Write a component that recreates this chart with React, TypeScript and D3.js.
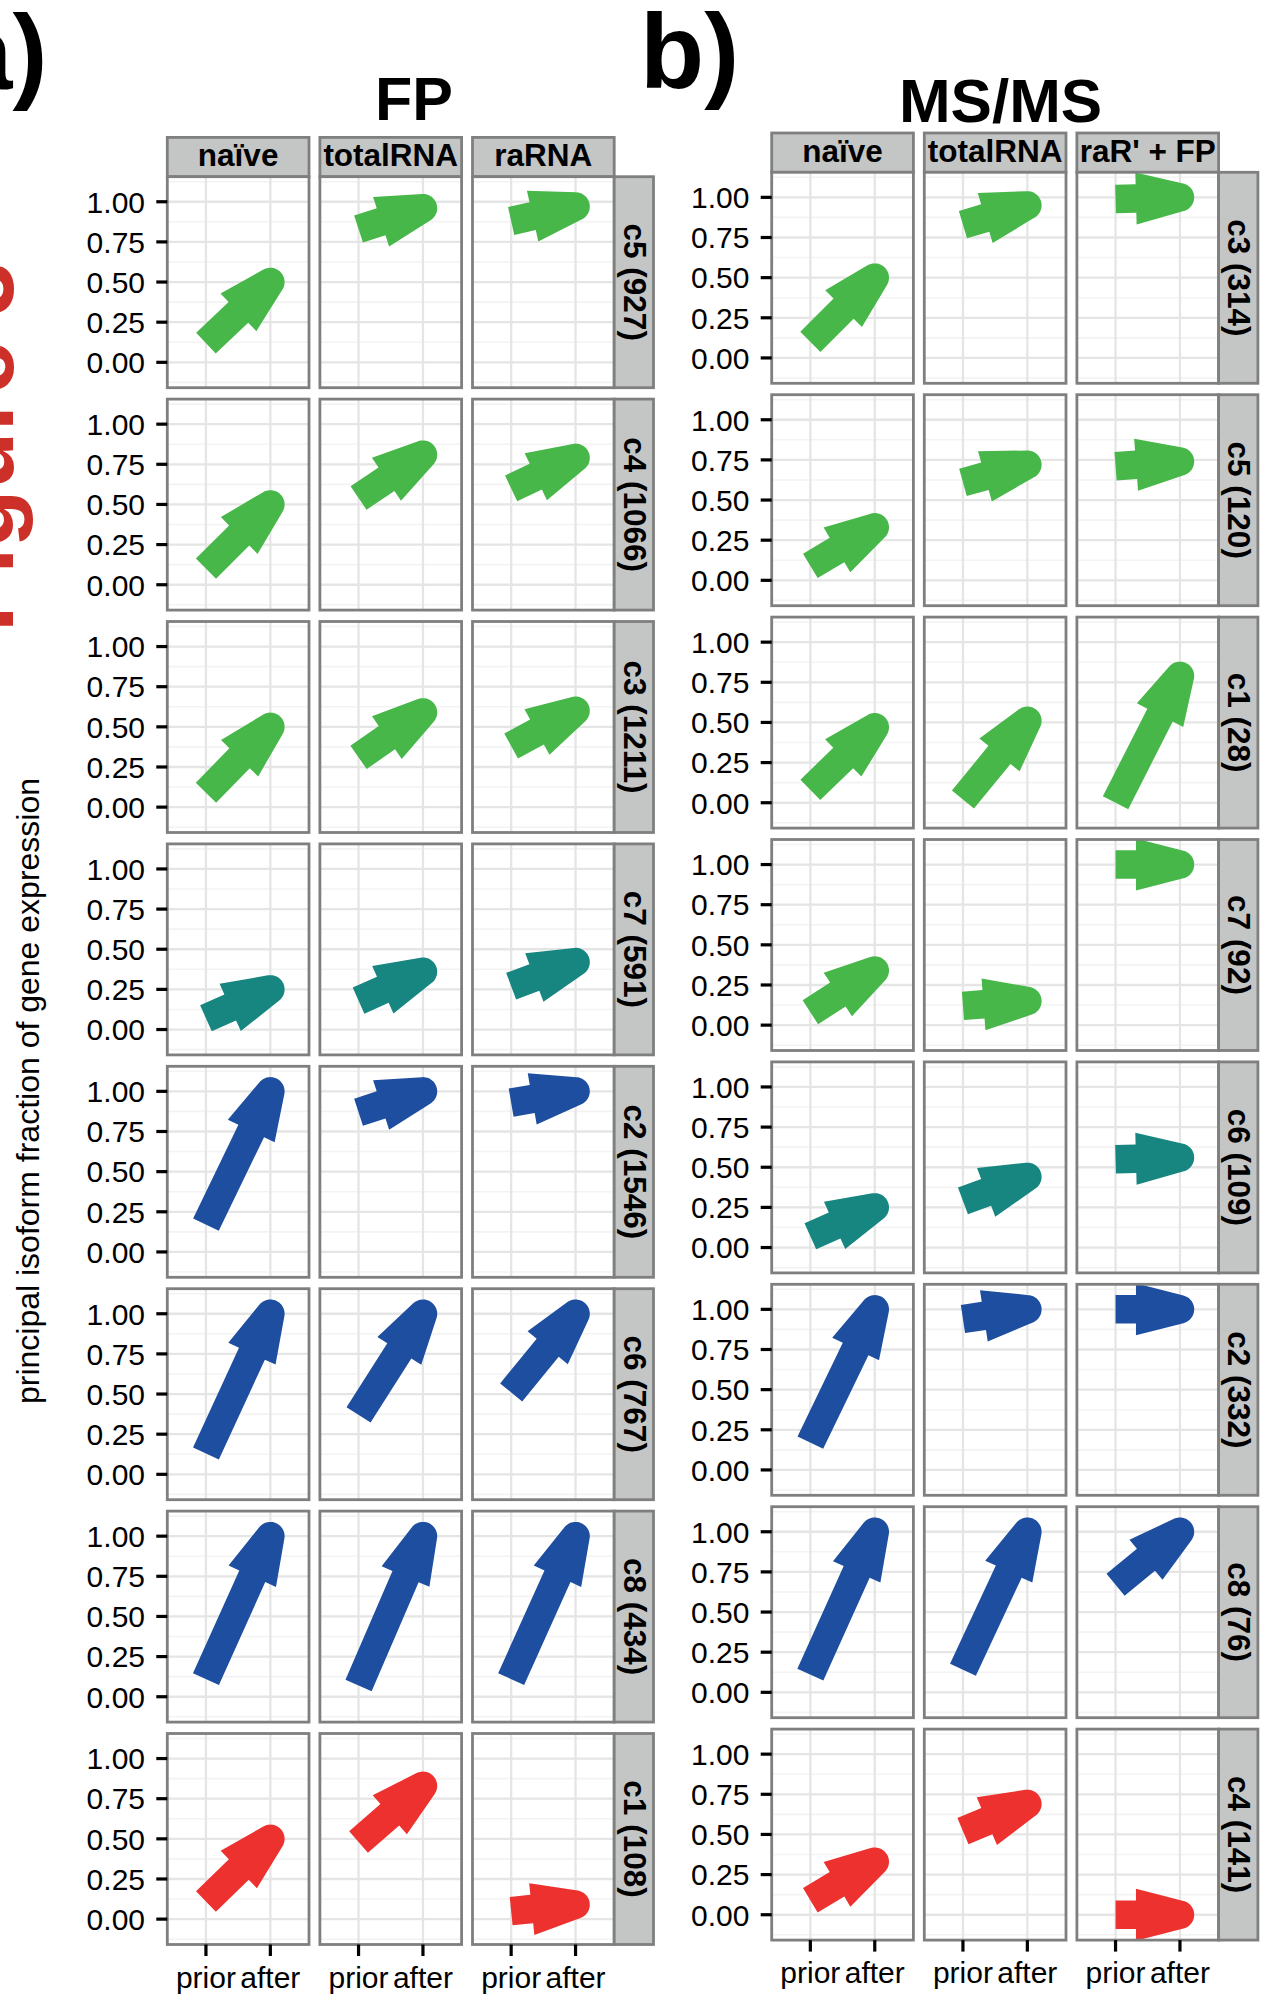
import React from "react";
import * as d3 from "d3";

const W = 1266;
const H = 2001;

// ---------- data ----------
const xCategories = ["prior", "after"];
const yTicks = [0, 0.25, 0.5, 0.75, 1];
const yTickLabels = ["0.00", "0.25", "0.50", "0.75", "1.00"];
const yMinorTicks = [-0.125, 0.125, 0.375, 0.625, 0.875, 1.125];
const yDomain = [-0.158, 1.156];

const fpColumns = ["naïve", "totalRNA", "raRNA"];
const fpRows = ["c5 (927)", "c4 (1066)", "c3 (1211)", "c7 (591)", "c2 (1546)", "c6 (767)", "c8 (434)", "c1 (108)"];
const fpGroups = ["green", "green", "green", "teal", "blue", "blue", "blue", "red"];
const fpPrior = [
  [0.12, 0.83, 0.88],
  [0.10, 0.54, 0.60],
  [0.09, 0.31, 0.38],
  [0.07, 0.18, 0.27],
  [0.17, 0.87, 0.93],
  [0.13, 0.37, 0.51],
  [0.11, 0.07, 0.11],
  [0.11, 0.48, 0.05],
];
const fpAfter = [
  [0.50, 0.96, 0.97],
  [0.50, 0.81, 0.79],
  [0.50, 0.59, 0.60],
  [0.25, 0.36, 0.42],
  [1.00, 1.00, 1.00],
  [1.00, 1.00, 1.00],
  [1.00, 1.00, 1.00],
  [0.50, 0.83, 0.09],
];

const msColumns = ["naïve", "totalRNA", "raR' + FP"];
const msRows = ["c3 (314)", "c5 (120)", "c1 (28)", "c7 (92)", "c6 (109)", "c2 (332)", "c8 (76)", "c4 (141)"];
const msGroups = ["green", "green", "green", "green", "teal", "blue", "blue", "red"];
const msPrior = [
  [0.10, 0.83, 0.99],
  [0.09, 0.61, 0.71],
  [0.08, 0.02, 0.00],
  [0.08, 0.12, 1.00],
  [0.07, 0.29, 0.55],
  [0.17, 0.94, 1.00],
  [0.11, 0.14, 0.67],
  [0.09, 0.52, 0.00],
];
const msAfter = [
  [0.50, 0.95, 1.00],
  [0.33, 0.72, 0.74],
  [0.47, 0.51, 0.79],
  [0.34, 0.15, 1.00],
  [0.25, 0.44, 0.56],
  [1.00, 1.00, 1.00],
  [1.00, 1.00, 1.00],
  [0.33, 0.69, 0.00],
];

const groupColors: Record<string, string> = {
  green: "#48b74a",
  teal: "#178680",
  blue: "#1e4e9f",
  red: "#ec312e",
};

// ---------- layout ----------
const PW = 141.7;
const PH = 211;
const COLP = 152.6;
const ROWP = 222.4;
const STRIP_H = 39.3;
const STRIP_W = 39.3;
const FONT = "'Liberation Sans', Arial, Helvetica, sans-serif";

const SHAFT_W = 28.5;
const HEAD_LEN = 44;
const HEAD_HALF = 26;
const TIP_R = 14.25;

function arrowPoints(sx: number, sy: number, ex: number, ey: number): [number, number][] {
  const dx = ex - sx;
  const dy = ey - sy;
  const len = Math.hypot(dx, dy);
  const ux = dx / len;
  const uy = dy / len;
  const nx = -uy;
  const ny = ux;
  const P = (a: number, b: number): [number, number] => [ex + a * ux + b * nx, ey + a * uy + b * ny];
  const hw = SHAFT_W / 2;
  const D = Math.hypot(HEAD_LEN, HEAD_HALF);
  const cosPhi = TIP_R / D;
  const sinPhi = Math.sqrt(1 - cosPhi * cosPhi);
  const tx = TIP_R * ((cosPhi * -HEAD_LEN) / D + (sinPhi * HEAD_HALF) / D);
  const ty = TIP_R * ((cosPhi * HEAD_HALF) / D + (sinPhi * HEAD_LEN) / D);
  const th = Math.atan2(ty, tx);
  const pts: [number, number][] = [P(-len, hw), P(-HEAD_LEN, hw), P(-HEAD_LEN, HEAD_HALF)];
  const N = 30;
  for (let i = 0; i <= N; i++) {
    const t = th - (2 * th * i) / N;
    pts.push(P(TIP_R * Math.cos(t), TIP_R * Math.sin(t)));
  }
  pts.push(P(-HEAD_LEN, -HEAD_HALF), P(-HEAD_LEN, -hw), P(-len, -hw));
  return pts;
}

const lineGen = d3.line<[number, number]>().curve(d3.curveLinearClosed);

interface BlockProps {
  id: string;
  left: number;
  top: number;
  columns: string[];
  rows: string[];
  groups: string[];
  prior: number[][];
  after: number[][];
}

function Block({ id, left, top, columns, rows, groups, prior, after }: BlockProps) {
  const nRows = rows.length;
  const nCols = columns.length;
  const elems: React.ReactNode[] = [];

  // top strips
  columns.forEach((col, c) => {
    const x0 = left + c * COLP;
    elems.push(
      <g key={`ts-${c}`}>
        <rect x={x0} y={top - STRIP_H} width={PW} height={STRIP_H} fill="#c4c5c5" stroke="#7f7f7f" strokeWidth={2.8} />
        <text x={x0 + PW / 2} y={top - STRIP_H + 28.7} textAnchor="middle" fontFamily={FONT} fontWeight="bold" fontSize={31.5} fill="#000">
          {col}
        </text>
      </g>
    );
  });

  for (let r = 0; r < nRows; r++) {
    const y0 = top + r * ROWP;
    const yScale = d3.scaleLinear().domain(yDomain).range([y0 + PH, y0]);
    for (let c = 0; c < nCols; c++) {
      const x0 = left + c * COLP;
      const xScale = d3.scalePoint<string>().domain(xCategories).range([x0, x0 + PW]).padding(0.6);
      const clipId = `clip-${id}-${r}-${c}`;
      const sx = xScale("prior") as number;
      const ex = xScale("after") as number;
      const sy = yScale(prior[r][c]);
      const ey = yScale(after[r][c]);
      const d = lineGen(arrowPoints(sx, sy, ex, ey)) || "";
      elems.push(
        <g key={`p-${r}-${c}`}>
          <defs>
            <clipPath id={clipId}>
              <rect x={x0} y={y0} width={PW} height={PH} />
            </clipPath>
          </defs>
          <rect x={x0} y={y0} width={PW} height={PH} fill="#ffffff" />
          {yMinorTicks.map((t) => (
            <line key={`mn${t}`} x1={x0} x2={x0 + PW} y1={yScale(t)} y2={yScale(t)} stroke="#f3f3f3" strokeWidth={1.6} />
          ))}
          {yTicks.map((t) => (
            <line key={`mj${t}`} x1={x0} x2={x0 + PW} y1={yScale(t)} y2={yScale(t)} stroke="#e5e5e5" strokeWidth={2.3} />
          ))}
          {xCategories.map((k) => (
            <line key={`vx${k}`} x1={xScale(k)} x2={xScale(k)} y1={y0} y2={y0 + PH} stroke="#e5e5e5" strokeWidth={2.3} />
          ))}
          <path d={d} fill={groupColors[groups[r]]} clipPath={`url(#${clipId})`} />
          <rect x={x0} y={y0} width={PW} height={PH} fill="none" stroke="#7f7f7f" strokeWidth={2.8} />
          {r === nRows - 1 &&
            xCategories.map((k) => (
              <g key={`xt${k}`}>
                <line x1={xScale(k)} x2={xScale(k)} y1={y0 + PH} y2={y0 + PH + 11.5} stroke="#000" strokeWidth={3.2} />
                <text x={xScale(k)} y={y0 + PH + 43} textAnchor="middle" fontFamily={FONT} fontSize={30} fill="#000">
                  {k}
                </text>
              </g>
            ))}
        </g>
      );
    }
    // y axis ticks on first column
    yTicks.forEach((t, i) => {
      elems.push(
        <g key={`yt-${r}-${i}`}>
          <line x1={left - 11} x2={left} y1={yScale(t)} y2={yScale(t)} stroke="#000" strokeWidth={3.2} />
          <text x={left - 22.3} y={yScale(t)} dy="0.36em" textAnchor="end" fontFamily={FONT} fontSize={30} fill="#000">
            {yTickLabels[i]}
          </text>
        </g>
      );
    });
    // right strip
    const sxL = left + (nCols - 1) * COLP + PW;
    elems.push(
      <g key={`rs-${r}`}>
        <rect x={sxL} y={y0} width={STRIP_W} height={PH} fill="#c4c5c5" stroke="#7f7f7f" strokeWidth={2.8} />
        <text
          transform={`translate(${sxL + 9.3},${y0 + PH / 2}) rotate(90)`}
          textAnchor="middle"
          fontFamily={FONT}
          fontWeight="bold"
          fontSize={31.5}
          fill="#000"
        >
          {rows[r]}
        </text>
      </g>
    );
  }
  return <g>{elems}</g>;
}

export default function App() {
  return (
    <svg
      width={W}
      height={H}
      viewBox={`0 0 ${W} ${H}`}
      style={{ position: "absolute", left: 0, top: 0, display: "block", background: "#fff" }}
    >
      <rect x={0} y={0} width={W} height={H} fill="#ffffff" />
      {/* partially visible side label */}
      <text
        transform={`translate(13,632) rotate(-90)`}
        fontFamily={FONT}
        fontWeight="bold"
        fontSize={95}
        fill="#cd2f29"
      >
        Figure 3
      </text>
      <text x={-46} y={89} fontFamily={FONT} fontWeight="bold" fontSize={105} fill="#000">
        a)
      </text>
      <text x={640} y={88} fontFamily={FONT} fontWeight="bold" fontSize={105} fill="#000">
        b)
      </text>
      <text x={414} y={120} textAnchor="middle" fontFamily={FONT} fontWeight="bold" fontSize={61} fill="#000">
        FP
      </text>
      <text x={1000.6} y={121.7} textAnchor="middle" fontFamily={FONT} fontWeight="bold" fontSize={62} fill="#000">
        MS/MS
      </text>
      <text
        transform={`translate(38.5,1091) rotate(-90)`}
        textAnchor="middle"
        fontFamily={FONT}
        fontSize={32}
        fill="#000"
      >
        principal isoform fraction of gene expression
      </text>
      <Block id="fp" left={167.3} top={176.7} columns={fpColumns} rows={fpRows} groups={fpGroups} prior={fpPrior} after={fpAfter} />
      <Block id="ms" left={771.7} top={172.3} columns={msColumns} rows={msRows} groups={msGroups} prior={msPrior} after={msAfter} />
    </svg>
  );
}
